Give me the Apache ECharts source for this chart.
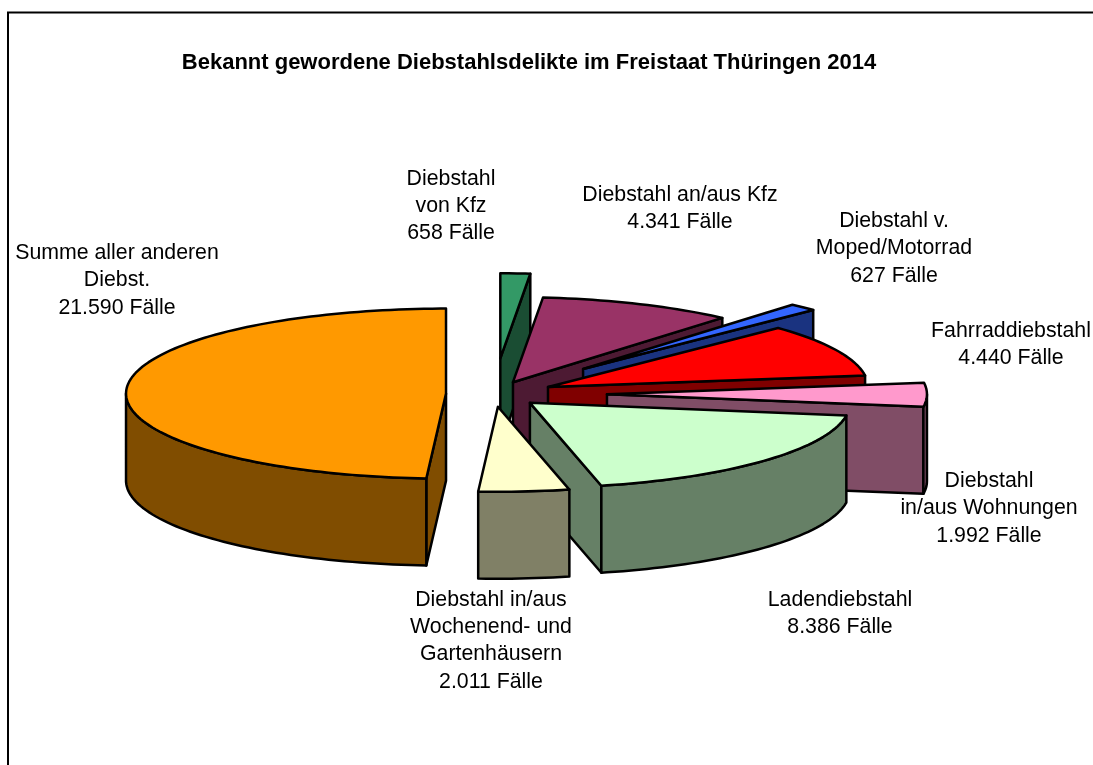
<!DOCTYPE html>
<html>
<head>
<meta charset="utf-8">
<style>html,body{margin:0;padding:0;background:#fff}#c{width:1093px;height:765px}</style>
<script src="https://cdn.jsdelivr.net/npm/echarts@6/dist/echarts.min.js"></script>
</head>
<body>
<div id="c"></div>
<script>
var chartTitle = 'Bekannt gewordene Diebstahlsdelikte im Freistaat Thüringen 2014';
var categories = ['Diebstahl\nvon Kfz','Diebstahl an/aus Kfz','Diebstahl v.\nMoped/Motorrad','Fahrraddiebstahl','Diebstahl\nin/aus Wohnungen','Ladendiebstahl','Diebstahl in/aus\nWochenend- und\nGartenhäusern','Summe aller anderen\nDiebst.'];
var caseCounts = [658,4341,627,4440,1992,8386,2011,21590];
var explosions = [0.42,0.151,0.405,0.1875,0.353,0.153,0.15,0.15];
var topColors  = ['#339966','#993366','#3366FF','#FF0000','#FF99CC','#CCFFCC','#FFFFCC','#FF9900'];
var wallColors = ['#1A4D33','#4D1A33','#1A3380','#800000','#804D66','#668066','#808066','#804D00'];
var labelCenters = [[451,165],[680,181.5],[894,207.5],[1011,317.5],[989,467.5],[840,586.5],[491,586],[117,239.5]];

var pie = {cx:494, cy:394, rx:320, ry:85, depth:87};
var LINE = 27.4;
var total = caseCounts.reduce(function(s,v){return s+v;},0);

function fmt(n){ return String(n).replace(/\B(?=(\d{3})+$)/g,'.'); }
function renderSlice(params, api){
  var i = params.dataIndex, val = api.value(0), before = 0;
  for (var k=0;k<i;k++) before += caseCounts[k];
  var a = before/total*360, b = (before+val)/total*360, m = (a+b)/2;
  var rad = Math.PI/180, e = explosions[i];
  var ax = pie.cx + e*pie.rx*Math.sin(m*rad), ay = pie.cy - e*pie.ry*Math.cos(m*rad);
  function rim(d,low){ return [ax+pie.rx*Math.sin(d*rad), ay-pie.ry*Math.cos(d*rad)+(low?pie.depth:0)]; }
  function arc(s,t,low){ var p=[]; for(var d=s;d<t;d+=1.5)p.push(rim(d,low)); p.push(rim(t,low)); return p; }
  var style = function(c){ return {fill:c,stroke:'#000',lineWidth:2.5,lineJoin:'round'}; };
  function poly(pts,c){ return {type:'polygon',shape:{points:pts},style:style(c)}; }
  var apexLow = [ax,ay+pie.depth], kids = [];
  if (Math.sin(a*rad) < 0) kids.push(poly([[ax,ay],rim(a),rim(a,true),apexLow],wallColors[i]));
  if (Math.sin(b*rad) > 0) kids.push(poly([[ax,ay],rim(b),rim(b,true),apexLow],wallColors[i]));
  var fa = Math.max(a,90), fb = Math.min(b,270);
  if (fb > fa) kids.push(poly(arc(fa,fb,false).concat(arc(fa,fb,true).reverse()),wallColors[i]));
  kids.push(poly([[ax,ay]].concat(arc(a,b,false)),topColors[i]));
  return {type:'group',children:kids};
}

var labelGraphics = categories.map(function(name,i){
  return {type:'text',x:labelCenters[i][0],y:labelCenters[i][1],silent:true,z:20,
    style:{text:name+'\n'+fmt(caseCounts[i])+' Fälle',align:'center',verticalAlign:'top',
      font:'21.3px "Liberation Sans", Arial, sans-serif',lineHeight:LINE,fill:'#000'}};
});
labelGraphics.push({type:'polyline',silent:true,shape:{points:[[8,765],[8,12.5],[1093,12.5]]},style:{stroke:'#000',lineWidth:2,fill:null}});

var chart = echarts.init(document.getElementById('c'),null,{renderer:'canvas'});
chart.setOption({
  animation:false,
  backgroundColor:'#fff',
  title:{text:chartTitle,left:524,top:47,textAlign:'center',
    textStyle:{fontFamily:'"Liberation Sans", Arial, sans-serif',fontWeight:'bold',fontSize:22,color:'#000'}},
  graphic:labelGraphics,
  series:[{type:'custom',coordinateSystem:'none',silent:true,
    data:caseCounts.map(function(v){return [v];}),
    renderItem:renderSlice}]
});
</script>
</body>
</html>
